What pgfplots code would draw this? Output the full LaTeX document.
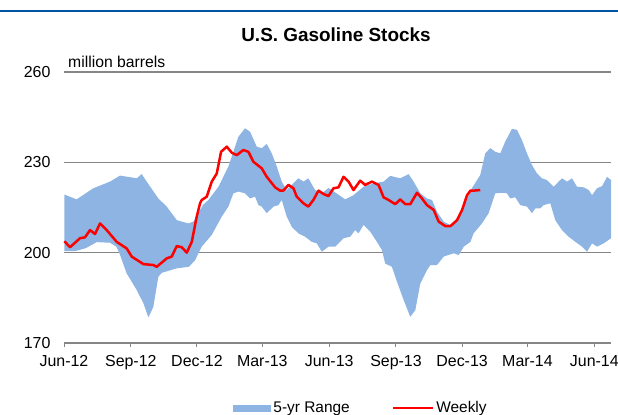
\documentclass[border=0pt]{standalone}
\usepackage{fontspec}
\setmainfont{Liberation Sans}
\usepackage{pgfplots}
\pgfplotsset{compat=1.18}
\usepgfplotslibrary{fillbetween}
\definecolor{band}{RGB}{141,180,226}
\definecolor{gridc}{RGB}{134,134,134}
\definecolor{hdr}{RGB}{0,84,166}

\begin{document}
\begin{tikzpicture}
\draw[hdr, line width=2.4bp] (0bp,404bp) -- (618bp,404bp);
\node[font=\bfseries\fontsize{19}{21}\selectfont] at (336bp,380bp) {U.S. Gasoline Stocks};
\node[anchor=base west, font=\fontsize{15.8}{18}\selectfont, inner sep=0pt] at (68bp,347bp) {million barrels};
\begin{axis}[
  at={(64bp,72bp)}, anchor=south west,
  scale only axis, width=547bp, height=271bp,
  xmin=0, xmax=753, ymin=170, ymax=260,
  axis x line*=bottom, axis y line*=left,
  x axis line style={gridc, line width=1bp},
  y axis line style={draw=none},
  xtick={0,92,183,273,365,457,548,638,730},
  xticklabels={Jun-12,Sep-12,Dec-12,Mar-13,Jun-13,Sep-13,Dec-13,Mar-14,Jun-14},
  ytick={170,200,230,260},
  tick align=outside,
  major tick length=4bp,
  xtick style={gridc, line width=1bp},
  ytick style={draw=none},
  ymajorgrids,
  major grid style={gridc, line width=1.1bp},
  tick label style={font=\fontsize{16}{18}\selectfont},
  /pgf/number format/assume math mode=true,
  yticklabel style={anchor=east, xshift=-6bp},
  xticklabel style={anchor=north, yshift=-5bp},
  clip=false,
  legend style={at={(0.543,-0.24)}, anchor=center, draw=none, fill=none,
    legend columns=2, font=\fontsize{15.5}{18}\selectfont,
    /tikz/every even column/.append style={column sep=40bp}},
  legend cell align=left,
]
\addplot[name path=upper, draw=none, forget plot] coordinates {
(0.5,219.3) (17.4,217.7) (40.4,221.4) (63.4,223.6) (77.1,225.6) (100.1,224.7) (107,226.1) (113.8,223.6) (129.9,218) (141.4,215.3) (155.2,210.8) (171.2,209.7) (178.1,210.3) (187.3,214.2)
(192,216) (198.8,217.5) (212.6,221.9) (226.3,228.6) (240.1,238.5) (249.2,241.3) (256.1,240.2) (265.3,235.2) (272.2,234.7) (279.1,236.1) (286,233) (292.9,228.6) (299.7,223.6) (306.6,220.8) (318.1,223.6) (322.7,224.7) (329.6,223.6) (336.4,224.7) (345.7,220.8) (354.9,219.7) (364.1,221.5)
(373.3,220) (387.1,217.7) (398.5,219.1) (412.3,221.9) (426.1,223) (439.9,223.6) (449.1,225.5) (462.9,224.7) (474.4,226.1) (481.3,223.6) (490.5,219.7) (499.7,218) (506.6,217.5) (513.5,213.6) (522.7,210.3) (531.9,209.2) (541.1,211.4) (550.3,215.3)
(561.5,221.4) (573,225.8) (579.9,233) (586.8,234.7) (593.7,233.5) (600.6,233) (607.4,236.9) (616.6,241.1) (623.5,240.8) (630.4,237.4) (637.3,233) (644.2,229.1) (651.1,226.3) (657.9,224.7) (664.8,224.1) (674,221.9) (680.9,223.6) (685.5,224.7) (692.4,223.6) (699.3,224.7) (706.2,221.9) (715.4,221.7) (722.3,220.8) (726.9,219.1) (733.8,221.4) (740.7,222.1) (747.6,225.2) (753,224.1)
};
\addplot[name path=lower, draw=none, forget plot] coordinates {
(0.5,200.5) (15,200.5) (30,201.5) (45,203.5) (63.4,203.3) (72,202) (76,200) (86.3,193.1) (100.1,187.6) (109.3,183.2) (116.2,178.5) (123,182) (129.9,192) (134.5,193.3) (155.2,194.8) (172,195.3) (180.4,197.5)
(189.6,202) (203.4,205.9) (217.2,212) (226.3,215.3) (233.2,219.7) (240.1,220.3) (249.2,219.7) (256.1,218) (263,218.6) (267.6,215.8) (272.2,215.3) (279.1,213.1) (288.3,215.3) (295.2,215.8) (299.7,217.5) (306.6,212) (313.5,208.6) (322.7,206.4) (331.8,205.3) (341,203.6) (348,203.1) (354.9,200.3) (364.1,202)
(373.3,202) (384.8,204.8) (394,205.3) (400.8,207.5) (405.4,206.4) (412.3,209.2) (421.5,207) (430.7,203.6) (437.6,200.9) (442.2,196.4) (451.4,195.3) (458.3,190.4) (467.5,184.3) (476.7,178.7) (483.6,180.9) (490.5,189.8) (499.7,194.2) (504.3,195.9) (513.5,195.9) (522.7,198.7) (536.5,199.8) (543.4,199.2) (550.3,202) (559.5,203.6)
(563.8,206.4) (575.3,209.7) (584.5,213.1) (589.1,216.4) (593.7,219.7) (602.9,219.9) (609.7,219.7) (614.3,218) (621.2,218.4) (628.1,215.8) (637.3,215.3) (644.2,213.1) (648.8,214.7) (655.6,214.7) (660.2,215.8) (669.4,216.4) (676.3,210.8) (685.5,207.5) (694.7,205.3) (703.9,203.6) (713.1,202) (720,200.3) (726.9,203.1) (733.8,202) (743,203.1) (753,204.8)
};
\addplot[fill=band, draw=none,
  legend image code/.code={\fill[band] (0bp,-3.5bp) rectangle (38bp,3.5bp);}]
  fill between[of=upper and lower];
\addlegendentry{5-yr Range}
\addplot[red, line width=2.5bp, line join=round,
  legend image code/.code={\draw[red, line width=2.5bp] (0bp,0bp) -- (40bp,0bp);}]
  coordinates {
(0.5,203.8) (8.3,201.8) (22,204.8) (28.9,205.1) (35.8,207.5) (42.7,206.2) (49.6,209.7) (58.8,207.5) (72.5,203.6) (86.3,201.4) (93.2,198.7) (109.3,196.2) (123,195.9) (127.6,195.3) (141.4,198.1) (148.3,198.7) (155.2,202.2) (162.1,201.8) (169,200) (175.9,203.6) (182.7,212) (187.3,216.4)
(189.6,217.5) (196.5,218.6) (203.4,223.6) (210.3,226.3) (216.2,233.5) (224.1,235.2) (230.9,233.2) (237.8,232.4) (246.9,234.1) (253.8,233.5) (260.7,230.2) (272.2,228) (279.1,225.2) (290.6,221.7) (297.5,220.6) (302,220.6) (308.9,222.5) (315.8,221.4) (320.4,218.6) (329.6,216.4) (336.4,215.3) (343.3,217.5) (350.3,220.6) (357.2,219.5) (364.1,218.8) (371,221.4)
(377.9,221.7) (384.8,225.2) (391.7,223.6) (398.5,220.8) (407.7,223.9) (414.6,222.5) (423.8,223.6) (433,222.5) (439.9,218.4) (446.8,217.5) (456,216.1) (462.9,217.7) (469.8,216.1) (476.7,216.1) (485.9,219.9) (492.8,218) (499.7,215.8) (508.9,214.2) (515.8,210.3) (525,208.8) (531.9,208.8) (541.1,210.8) (548,214.2) (554.9,219.1) (559.5,220.6)
(563.8,220.6) (573,220.8)
};
\addlegendentry{Weekly}
\end{axis}
\pgfresetboundingbox
\path (0bp,0bp) rectangle (618bp,415bp);
\end{tikzpicture}
\end{document}
